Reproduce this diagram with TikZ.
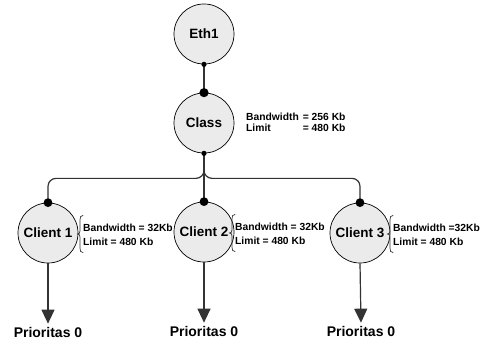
\documentclass[tikz,border=0pt]{standalone}
\usepackage{fontspec}
\setmainfont{Liberation Sans}
\usetikzlibrary{arrows.meta}
\definecolor{nodefill}{HTML}{EBEBEB}
\definecolor{linecol}{HTML}{333333}
\begin{document}
\begin{tikzpicture}[x=1pt,y=1pt,
  qnode/.style={circle,draw=black,line width=0.7pt,fill=nodefill,minimum size=60pt,inner sep=0pt,font=\bfseries\fontsize{13.5}{15}\selectfont},
  conn/.style={draw=linecol,line width=1.2pt},
  info/.style={anchor=west,align=left,inner sep=0pt,font=\bfseries\fontsize{10.3}{14}\selectfont},
  prio/.style={font=\bfseries\fontsize{14}{16}\selectfont,inner sep=0pt},
  infobrace/.pic={\draw[draw=linecol,line width=0.7pt,line cap=round]
     (3,-18.5) .. controls (0.5,-18.5) and (0,-17) .. (0,-14)
     -- (0,-3) .. controls (0,-1) and (-1,0) .. (-2.5,0)
     .. controls (-1,0) and (0,1) .. (0,3)
     -- (0,14) .. controls (0,17) and (0.5,18.5) .. (3,18.5);},
  arr/.style={draw=linecol,fill=linecol,line width=1.2pt,-{Triangle[length=14pt,width=13pt]}}]
\useasboundingbox (0,0) rectangle (484,-342);
\node[qnode] (eth) at (204,-34) {Eth1};
\node[qnode] (cls) at (204,-123) {Class};
\node[qnode] (c1) at (48,-233) {Client 1};
\node[qnode] (c2) at (204,-232) {Client 2};
\node[qnode] (c3) at (360,-233) {Client 3};
% connectors
\draw[conn] (eth.south) -- (cls.north);
\draw[conn] (cls.south) -- (c2.north);
\draw[conn,rounded corners=8pt] (cls.south) -- ++(0,-25) -| (c1.north);
\draw[conn,rounded corners=8pt] (cls.south) -- ++(0,-25) -| (c3.north);
% dots
\fill (eth.south) circle (2.6pt);
\fill (cls.north) circle (4.6pt);
\fill (cls.south) circle (2.6pt);
\fill (c1.north) circle (4.4pt);
\fill (c2.north) circle (4.4pt);
\fill (c3.north) circle (4.4pt);
% priorities
\node[prio] (p1) at (48,-332) {Prioritas 0};
\node[prio] (p2) at (204,-331) {Prioritas 0};
\node[prio] (p3) at (361,-331) {Prioritas 0};
\draw[arr] (c1.south) -- ([yshift=3pt]p1.north);
\draw[arr] (c2.south) -- ([yshift=3pt]p2.north);
\draw[arr] (c3.south) -- ([yshift=3pt]p3.north);
% class info
\node[anchor=west,inner sep=0pt,font=\bfseries\fontsize{10.3}{12}\selectfont] (clsinfo) at (246,-124)
  {\begin{tabular}{@{}l@{\hspace{4pt}}l@{}}Bandwidth & = 256 Kb\\[-1pt] Limit & = 480 Kb\end{tabular}};
% client infos
\pic at (80,-234) {infobrace};
\node[info] (i1) at (83,-235) {Bandwidth = 32Kb\\Limit = 480 Kb};
\pic at (232,-233) {infobrace};
\node[info] (i2) at (235,-234) {Bandwidth = 32Kb\\Limit = 480 Kb};
\pic at (390,-234) {infobrace};
\node[info] (i3) at (393,-235) {Bandwidth =32Kb\\Limit = 480 Kb};
\end{tikzpicture}
\end{document}
